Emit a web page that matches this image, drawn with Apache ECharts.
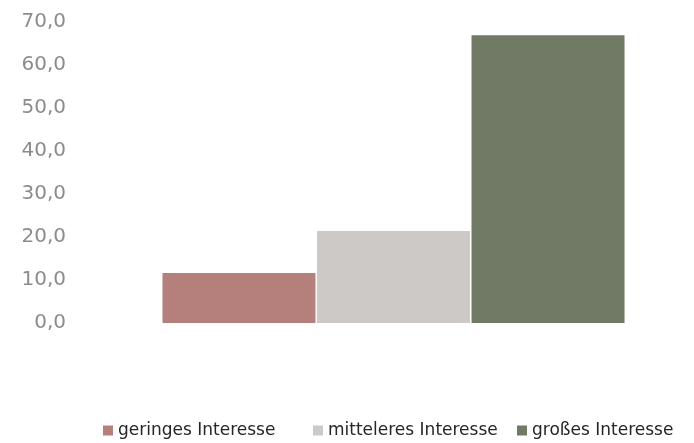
<!DOCTYPE html>
<html>
<head>
<meta charset="utf-8">
<script src="https://cdn.jsdelivr.net/npm/echarts@6/dist/echarts.min.js"></script>
<style>
  html, body { margin: 0; padding: 0; background: #ffffff; }
  #chart { width: 694px; height: 443px; }
</style>
</head>
<body>
<div id="chart"></div>
<script>
// Interest levels, share in percent
const categories = ['Interesse'];
const seriesNames = ['geringes Interesse', 'mitteleres Interesse', 'großes Interesse'];
const geringes = [11.6];
const mitteleres = [21.4];
const grosses = [66.9];
const seriesColors = ['#b57f7b', '#cdc9c6', '#707a65'];

const values = [geringes, mitteleres, grosses];
const legendLeft = [103, 313, 517];

const chart = echarts.init(document.getElementById('chart'), null, { renderer: 'canvas' });

chart.setOption({
  animation: false,
  backgroundColor: '#ffffff',
  grid: { left: 93, right: 0, top: 22, bottom: 120, containLabel: false },
  legend: seriesNames.map((name, i) => ({
    data: [name],
    left: legendLeft[i],
    top: 422,
    padding: 0,
    itemWidth: 10,
    itemHeight: 10,
    icon: 'rect',
    textStyle: { fontFamily: 'DejaVu Sans', fontSize: 17, color: '#262626' }
  })),
  xAxis: {
    type: 'category',
    data: categories,
    axisLine: { show: false },
    axisTick: { show: false },
    axisLabel: { show: false },
    splitLine: { show: false }
  },
  yAxis: {
    type: 'value',
    min: 0,
    max: 70,
    interval: 10,
    axisLine: { show: false },
    axisTick: { show: false },
    splitLine: { show: false },
    axisLabel: {
      margin: 27,
      fontFamily: 'DejaVu Sans',
      fontSize: 20,
      color: '#8c8c8c',
      formatter: v => v.toFixed(1).replace('.', ',')
    }
  },
  series: seriesNames.map((name, i) => ({
    name: name,
    type: 'bar',
    data: values[i],
    barWidth: 153,
    barGap: '1%',
    itemStyle: { color: seriesColors[i] }
  }))
});
</script>
</body>
</html>
